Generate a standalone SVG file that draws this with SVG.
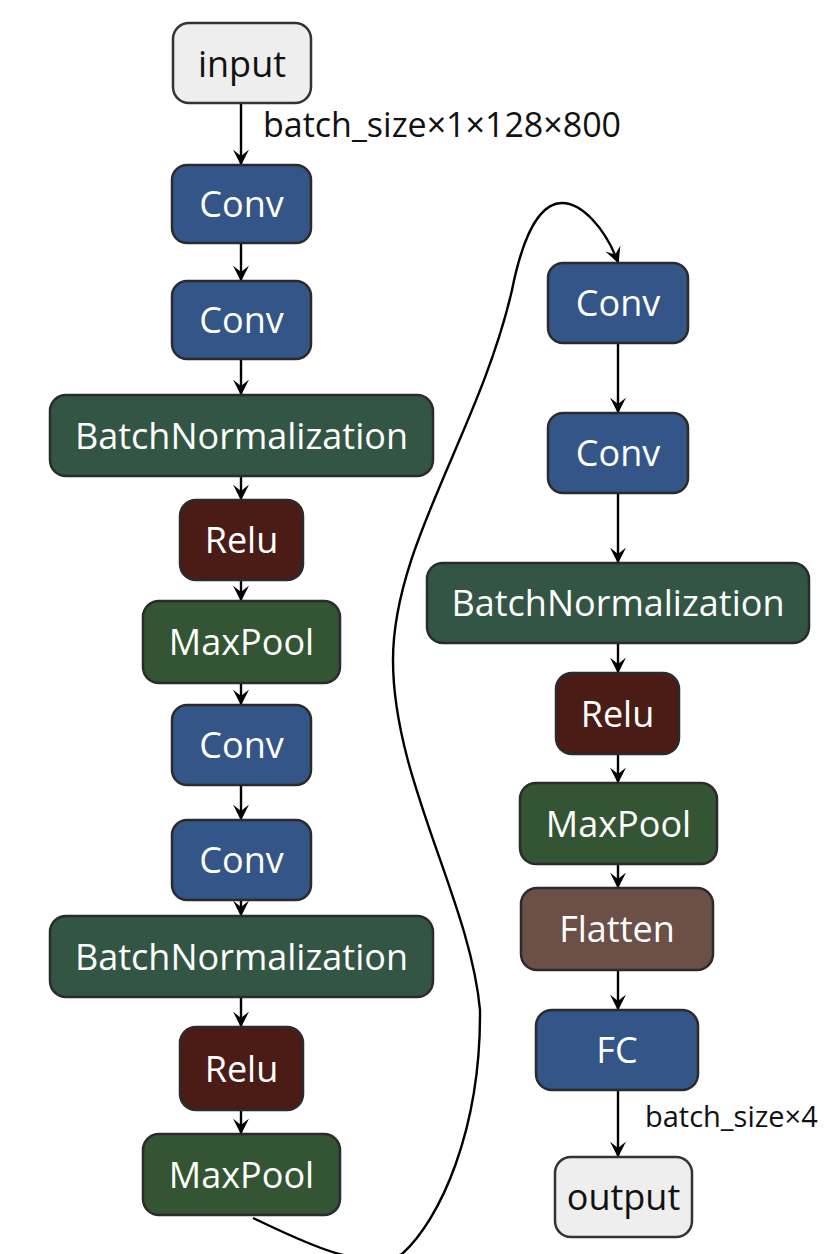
<svg xmlns="http://www.w3.org/2000/svg" width="830" height="1254" viewBox="0 0 830 1254">
<style>
.n rect{stroke:#2b2b2b;stroke-width:2.5}
.n text{font-family:"Open Sans","Noto Sans","DejaVu Sans",sans-serif;font-size:36px;fill:#fff;text-anchor:middle}
.io rect{fill:#eeeeee;stroke:#333}
.io text{fill:#111}
.layer rect{fill:#335588}
.norm rect{fill:#335544}
.act rect{fill:#4b1b16}
.pool rect{fill:#335533}
.shape rect{fill:#6c4f47}
.e{stroke:#000;stroke-width:2.4;fill:none;marker-end:url(#ah)}
.lbl{font-family:"Open Sans","Noto Sans","DejaVu Sans",sans-serif;font-size:34px;fill:#111}
.lbl2{font-size:29px}
</style>
<defs>
<marker id="ah" viewBox="0 0 10 10" refX="9" refY="5" markerWidth="16" markerHeight="16" markerUnits="userSpaceOnUse" orient="auto">
<path d="M0,0 L10,5 L0,10 L4,5 z" fill="#000"/>
</marker>
</defs>
<rect width="830" height="1254" fill="#fff"/>
<g id="edges">
<line class="e" x1="241" y1="103" x2="241" y2="164"/>
<line class="e" x1="241" y1="243" x2="241" y2="280"/>
<line class="e" x1="241" y1="359" x2="241" y2="394"/>
<line class="e" x1="241" y1="476" x2="241" y2="499"/>
<line class="e" x1="241" y1="580" x2="241" y2="600"/>
<line class="e" x1="241" y1="683" x2="241" y2="704"/>
<line class="e" x1="241" y1="785" x2="241" y2="819"/>
<line class="e" x1="241" y1="900" x2="241" y2="915"/>
<line class="e" x1="241" y1="997" x2="241" y2="1026"/>
<line class="e" x1="241" y1="1110" x2="241" y2="1133"/>
<path class="e" stroke-width="1.6" d="M253,1218 C300,1240 360,1272 402,1254 C440,1220 481,1130 480,1010 C470,900 393,780 393,660 C393,545 480,430 512,290 C520,250 535,203 562,203 C582,203 605,228 618,262"/>
<line class="e" x1="618" y1="343" x2="618" y2="412"/>
<line class="e" x1="618" y1="493" x2="618" y2="562"/>
<line class="e" x1="618" y1="643" x2="618" y2="672"/>
<line class="e" x1="618" y1="754" x2="618" y2="782"/>
<line class="e" x1="618" y1="864" x2="618" y2="887"/>
<line class="e" x1="618" y1="970" x2="618" y2="1009"/>
<line class="e" x1="618" y1="1090" x2="618" y2="1156"/>
<text class="lbl" x="263" y="137">batch_size×1×128×800</text>
<text class="lbl lbl2" x="645" y="1127">batch_size×4</text>
</g>
<g id="input" class="n io"><rect x="173" y="23" width="138" height="80" rx="16"/><text x="242" y="77">input</text></g>
<g id="conv1" class="n layer"><rect x="172" y="165" width="139" height="78" rx="15"/><text x="241.5" y="217">Conv</text></g>
<g id="conv2" class="n layer"><rect x="172" y="281" width="139" height="78" rx="15"/><text x="241.5" y="333">Conv</text></g>
<g id="bn1" class="n norm"><rect x="50" y="395" width="383" height="81" rx="16"/><text x="241.5" y="449">BatchNormalization</text></g>
<g id="relu1" class="n act"><rect x="180" y="500" width="123" height="80" rx="16"/><text x="241.5" y="553">Relu</text></g>
<g id="maxpool1" class="n pool"><rect x="143" y="601" width="197" height="82" rx="16"/><text x="241.5" y="655">MaxPool</text></g>
<g id="conv3" class="n layer"><rect x="172" y="705" width="139" height="80" rx="15"/><text x="241.5" y="758">Conv</text></g>
<g id="conv4" class="n layer"><rect x="172" y="820" width="139" height="80" rx="15"/><text x="241.5" y="873">Conv</text></g>
<g id="bn2" class="n norm"><rect x="50" y="916" width="383" height="81" rx="16"/><text x="241.5" y="970">BatchNormalization</text></g>
<g id="relu2" class="n act"><rect x="180" y="1027" width="123" height="83" rx="16"/><text x="241.5" y="1082">Relu</text></g>
<g id="maxpool2" class="n pool"><rect x="143" y="1134" width="197" height="81" rx="16"/><text x="241.5" y="1188">MaxPool</text></g>
<g id="conv5" class="n layer"><rect x="548" y="263" width="140" height="80" rx="15"/><text x="618" y="316">Conv</text></g>
<g id="conv6" class="n layer"><rect x="548" y="413" width="140" height="80" rx="15"/><text x="618" y="466">Conv</text></g>
<g id="bn3" class="n norm"><rect x="427" y="563" width="382" height="80" rx="16"/><text x="618" y="616">BatchNormalization</text></g>
<g id="relu3" class="n act"><rect x="556" y="673" width="123" height="81" rx="16"/><text x="617.5" y="727">Relu</text></g>
<g id="maxpool3" class="n pool"><rect x="520" y="783" width="197" height="81" rx="16"/><text x="618.5" y="837">MaxPool</text></g>
<g id="flatten" class="n shape"><rect x="521" y="888" width="192" height="82" rx="16"/><text x="617" y="942">Flatten</text></g>
<g id="fc" class="n layer"><rect x="536" y="1010" width="162" height="80" rx="16"/><text x="617" y="1063">FC</text></g>
<g id="output" class="n io"><rect x="555" y="1157" width="137" height="80" rx="16"/><text x="623.5" y="1210">output</text></g>
</svg>
